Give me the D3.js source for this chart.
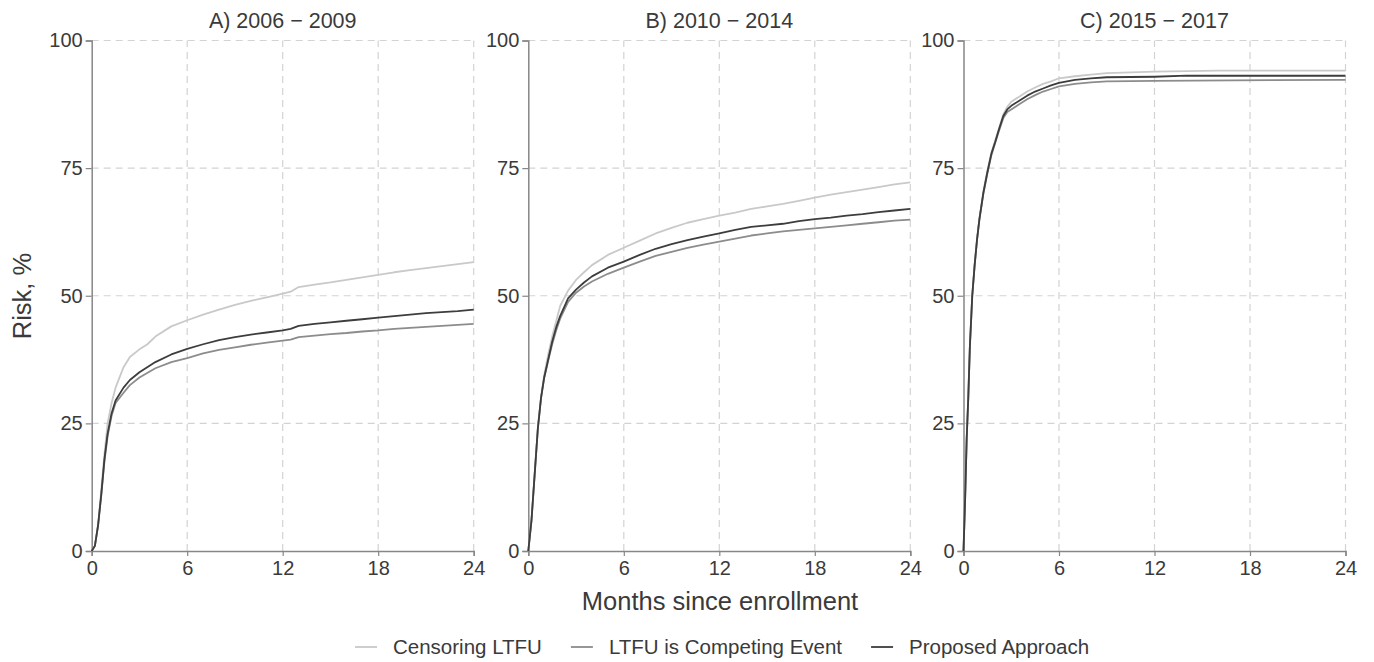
<!DOCTYPE html>
<html>
<head>
<meta charset="utf-8">
<script src="https://cdn.jsdelivr.net/npm/d3@7"></script>
<style>
  body { margin: 0; background: #fff; }
  text { font-family: "Liberation Sans", Arial, sans-serif; fill: #3a3a3a; }
</style>
</head>
<body>
<script>
// Panel titles and legend labels
var panelTitles = ["A) 2006 \u2212 2009", "B) 2010 \u2212 2014", "C) 2015 \u2212 2017"];
var seriesNames = ["Censoring LTFU", "LTFU is Competing Event", "Proposed Approach"];
var xTicks = [0, 6, 12, 18, 24];
var yTicks = [0, 25, 50, 75, 100];

// Risk curves, [month, risk %]
var censA = [[0,0],[0.2,1],[0.4,5],[0.6,12],[0.8,19],[1,25],[1.25,29],[1.5,32],[1.75,34],[2,36],[2.4,38],[3,39.5],[3.5,40.5],[4,42],[5,44],[6,45.2],[7,46.3],[8,47.3],[9,48.2],[10,49],[11,49.7],[12,50.4],[12.5,50.8],[13,51.7],[14,52.2],[15,52.6],[16,53.1],[17,53.6],[18,54.1],[19,54.6],[20,55],[21,55.4],[22,55.8],[23,56.2],[24,56.6]];
var compA = [[0,0],[0.2,1],[0.4,5],[0.6,11],[0.8,17.5],[1,22.5],[1.25,26.5],[1.5,29],[2,31],[2.4,32.5],[3,34],[4,35.8],[5,37],[6,37.8],[7,38.7],[8,39.4],[9,39.9],[10,40.4],[11,40.8],[12,41.2],[12.5,41.4],[13,41.9],[14,42.2],[15,42.5],[16,42.7],[17,43],[18,43.2],[19,43.5],[20,43.7],[21,43.9],[22,44.1],[23,44.3],[24,44.5]];
var propA = [[0,0],[0.2,1],[0.4,5],[0.6,11],[0.8,18],[1,23],[1.25,27],[1.5,29.5],[2,32],[2.4,33.5],[3,35],[4,37],[5,38.5],[6,39.6],[7,40.5],[8,41.3],[9,41.9],[10,42.4],[11,42.8],[12,43.2],[12.5,43.5],[13,44.1],[14,44.5],[15,44.8],[16,45.1],[17,45.4],[18,45.7],[19,46],[20,46.3],[21,46.6],[22,46.8],[23,47],[24,47.3]];

var censB = [[0,0],[0.2,6],[0.4,15],[0.6,24],[0.8,30],[1,34.5],[1.25,38.5],[1.5,42],[1.75,45],[2,48],[2.5,51],[3,53.1],[3.5,54.6],[4,56],[5,58],[6,59.4],[7,60.8],[8,62.2],[9,63.3],[10,64.3],[11,65],[12,65.7],[13,66.3],[14,67],[15,67.5],[16,68],[17,68.6],[18,69.2],[19,69.8],[20,70.3],[21,70.8],[22,71.3],[23,71.8],[24,72.2]];
var compB = [[0,0],[0.2,6],[0.4,15],[0.6,24],[0.8,30],[1,34],[1.25,37.3],[1.5,40.5],[1.75,43.2],[2,45.5],[2.5,48.8],[3,50.6],[3.5,51.8],[4,52.8],[5,54.3],[6,55.5],[7,56.7],[8,57.8],[9,58.6],[10,59.4],[11,60],[12,60.6],[13,61.2],[14,61.8],[15,62.2],[16,62.6],[17,62.9],[18,63.2],[19,63.5],[20,63.8],[21,64.1],[22,64.4],[23,64.7],[24,64.9]];
var propB = [[0,0],[0.2,6],[0.4,15],[0.6,24],[0.8,30],[1,34],[1.25,37.5],[1.5,41],[1.75,43.8],[2,46],[2.5,49.5],[3,51.2],[3.5,52.6],[4,53.8],[5,55.5],[6,56.7],[7,58],[8,59.2],[9,60.1],[10,60.9],[11,61.6],[12,62.2],[13,62.9],[14,63.5],[15,63.8],[16,64.1],[17,64.6],[18,65],[19,65.3],[20,65.7],[21,66],[22,66.4],[23,66.7],[24,67]];

var censC = [[0,0],[0.1,10],[0.2,22],[0.3,30],[0.4,40],[0.55,50],[0.7,56],[0.85,61],[1,65],[1.25,70.5],[1.5,74.5],[1.75,78],[2,80.5],[2.25,83],[2.5,85.5],[2.75,87],[3,88],[3.5,89],[4,90],[4.5,90.8],[5,91.5],[5.5,92],[6,92.6],[7,93],[8,93.3],[9,93.6],[10,93.7],[12,93.9],[14,94],[16,94.1],[24,94.1]];
var compC = [[0,0],[0.1,10],[0.2,22],[0.3,30],[0.4,40],[0.55,50],[0.7,56],[0.85,61],[1,65],[1.25,70],[1.5,74],[1.75,77.5],[2,80],[2.25,82.5],[2.5,84.8],[2.75,86],[3,86.5],[3.5,87.5],[4,88.5],[4.5,89.3],[5,90],[5.5,90.5],[6,91],[7,91.5],[8,91.8],[9,92],[12,92.1],[24,92.3]];
var propC = [[0,0],[0.1,10],[0.2,22],[0.3,30],[0.4,40],[0.55,50],[0.7,56],[0.85,61],[1,65],[1.25,70.2],[1.5,74.2],[1.75,77.8],[2,80.2],[2.25,82.8],[2.5,85.2],[2.75,86.5],[3,87.2],[3.5,88.2],[4,89.2],[4.5,90],[5,90.6],[5.5,91.2],[6,91.7],[7,92.3],[8,92.6],[9,92.8],[12,92.9],[14,93.1],[24,93.1]];

var panels = [[censA, compA, propA], [censB, compB, propB], [censC, compC, propC]];
var colors = ["#c9c9c9", "#8c8c8c", "#3d3d3d"];

// SVG variables
var W = 1374, H = 662;
var panelLeft = [91.7, 528.3, 963.5],
    panelW = 382,
    plotTop = 40.5, plotBottom = 551;

var svg = d3.select("body").append("svg")
    .attr("width", W)
    .attr("height", H);

var yScale = d3.scaleLinear().domain([0, 100]).range([plotBottom, plotTop]);

panels.forEach(function(series, i) {
    var xScale = d3.scaleLinear().domain([0, 24]).range([panelLeft[i], panelLeft[i] + panelW]);
    var g = svg.append("g");

    // Gridlines
    g.selectAll(".hgrid").data(yTicks.slice(1)).enter().append("line")
        .attr("x1", xScale(0)).attr("x2", xScale(24))
        .attr("y1", function(d) { return yScale(d); })
        .attr("y2", function(d) { return yScale(d); })
        .style("stroke", "#d3d3d3").style("stroke-width", 1.2)
        .style("stroke-dasharray", "7,5");
    g.selectAll(".vgrid").data(xTicks.slice(1)).enter().append("line")
        .attr("y1", yScale(0)).attr("y2", yScale(100))
        .attr("x1", function(d) { return xScale(d); })
        .attr("x2", function(d) { return xScale(d); })
        .style("stroke", "#d3d3d3").style("stroke-width", 1.2)
        .style("stroke-dasharray", "7,5");

    // Axes
    var xaxis = d3.axisBottom(xScale).tickValues(xTicks).tickSize(5).tickPadding(5);
    var yaxis = d3.axisLeft(yScale).tickValues(yTicks).tickSize(6).tickPadding(3);

    var gx = g.append("g").attr("transform", "translate(0," + plotBottom + ")").call(xaxis);
    var gy = g.append("g").attr("transform", "translate(" + xScale(0) + ",0)").call(yaxis);
    [gx, gy].forEach(function(a) {
        a.select(".domain").style("stroke", "#878787").style("stroke-width", 1.5);
        a.selectAll(".tick line").style("stroke", "#878787").style("stroke-width", 1.2);
        a.selectAll(".tick text").style("font-size", "20px").style("fill", "#3a3a3a")
            .style("font-family", "'Liberation Sans', Arial, sans-serif");
    });

    // Lines
    var line = d3.line()
        .x(function(d) { return xScale(d[0]); })
        .y(function(d) { return yScale(d[1]); });

    series.forEach(function(s, k) {
        g.append("path")
            .datum(s)
            .attr("d", line)
            .style("fill", "none")
            .style("stroke", colors[k])
            .style("stroke-width", 1.8)
            .style("stroke-linejoin", "round");
    });

    // Title
    g.append("text")
        .attr("x", xScale(12)).attr("y", 28)
        .attr("text-anchor", "middle")
        .style("font-size", "21.5px")
        .text(panelTitles[i]);
});

// Axis titles
svg.append("text")
    .attr("x", 720).attr("y", 610)
    .attr("text-anchor", "middle")
    .style("font-size", "25.5px")
    .text("Months since enrollment");

svg.append("text")
    .attr("transform", "translate(31,296) rotate(-90)")
    .attr("text-anchor", "middle")
    .style("font-size", "25.5px")
    .text("Risk, %");

// Legend
var legend = svg.append("g");
var lx = 355;
seriesNames.forEach(function(name, k) {
    legend.append("line")
        .attr("x1", lx).attr("x2", lx + 22)
        .attr("y1", 647).attr("y2", 647)
        .style("stroke", colors[k]).style("stroke-width", 1.8);
    var t = legend.append("text")
        .attr("x", lx + 38).attr("y", 654)
        .style("font-size", "20.5px")
        .text(name);
    lx += 38 + t.node().getComputedTextLength() + 29;
});
</script>
</body>
</html>
